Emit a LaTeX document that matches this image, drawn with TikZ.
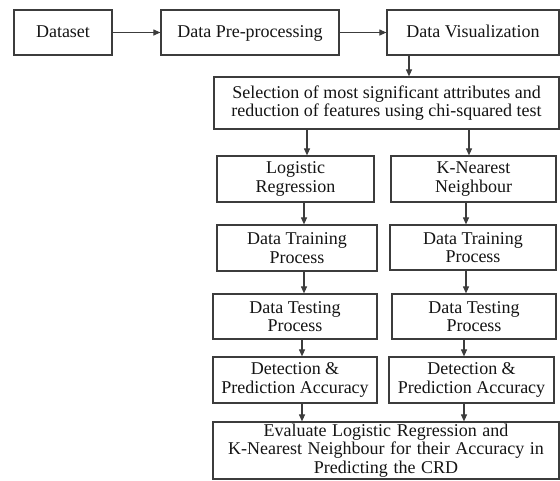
\documentclass[tikz,border=0pt]{standalone}
\usepackage{fontspec}
\setmainfont{Liberation Serif}
\usetikzlibrary{arrows.meta}
\definecolor{boxgray}{HTML}{3C3C3C}
\definecolor{inkgray}{HTML}{141414}
\begin{document}
\begin{tikzpicture}[x=1pt,y=-1pt,
  stage/.style={draw=boxgray, line width=1.2pt, inner sep=0pt, align=center,
    text=inkgray, font=\fontsize{18}{18.5}\selectfont},
  oneline/.style={text height=13pt, text depth=3pt},
  flow/.style={draw=boxgray, line width=1.1pt,
    -{Triangle[length=7pt,width=6pt]}}]
\useasboundingbox (0,0) rectangle (560,480);

% top row
\node[stage, oneline, minimum width=98pt,  minimum height=45pt] (ds) at (63,32.5)   {Dataset};
\node[stage, oneline, minimum width=178pt, minimum height=45pt] (pp) at (250,32.5)  {Data Pre-processing};
\node[stage, oneline, minimum width=172pt, minimum height=45pt] (dv) at (473,32.5)  {Data Visualization};

% feature selection
\node[stage, minimum width=345pt, minimum height=52pt] (sel) at (386.5,103)
  {Selection of most significant attributes and\\reduction of features using chi-squared test};

% logistic regression branch
\node[stage, minimum width=157pt, minimum height=46pt] (lr)  at (295.5,179) {Logistic\\Regression};
\node[stage, minimum width=160pt, minimum height=46pt] (trL) at (297,248)   {Data Training\\Process};
\node[stage, minimum width=164pt, minimum height=45pt] (teL) at (295,316.5) {Data Testing\\Process};
\node[stage, minimum width=164pt, minimum height=46pt] (deL) at (295,380)   {Detection \&\\Prediction Accuracy};

% k-nearest neighbour branch
\node[stage, minimum width=165pt, minimum height=46pt] (knn) at (473.5,179) {K-Nearest\\Neighbour};
\node[stage, minimum width=166pt, minimum height=45pt] (trR) at (473,247.5) {Data Training\\Process};
\node[stage, minimum width=164pt, minimum height=45pt] (teR) at (474,316.5) {Data Testing\\Process};
\node[stage, minimum width=165pt, minimum height=46pt] (deR) at (471.5,380) {Detection \&\\Prediction Accuracy};

% evaluation
\node[stage, minimum width=346pt, minimum height=57pt] (fin) at (386,450.5)
  {\raisebox{-2pt}{\parbox{340pt}{\centering\spaceskip=5.6pt plus 1pt
   Evaluate Logistic Regression and\\
   K-Nearest Neighbour for their Accuracy in\\
   Predicting the CRD}}};

% x positions of the vertical connectors
\coordinate (vx) at (409,0);
\coordinate (l1) at (307,0);
\coordinate (l2) at (304,0);
\coordinate (l3) at (302,0);
\coordinate (r1) at (469,0);
\coordinate (r2) at (466,0);
\coordinate (r3) at (464,0);

\draw[flow] (ds) -- (pp);
\draw[flow] (pp) -- (dv);
\draw[flow] (dv.south -| vx) -- (sel.north -| vx);

\draw[flow] (sel.south -| l1) -- (lr.north -| l1);
\draw[flow] (lr.south -| l2)  -- (trL.north -| l2);
\draw[flow] (trL.south -| l2) -- (teL.north -| l2);
\draw[flow] (teL.south -| l3) -- (deL.north -| l3);
\draw[flow] (deL.south -| l3) -- (fin.north -| l3);

\draw[flow] (sel.south -| r1) -- (knn.north -| r1);
\draw[flow] (knn.south -| r2) -- (trR.north -| r2);
\draw[flow] (trR.south -| r2) -- (teR.north -| r2);
\draw[flow] (teR.south -| r3) -- (deR.north -| r3);
\draw[flow] (deR.south -| r3) -- (fin.north -| r3);
\end{tikzpicture}
\end{document}
